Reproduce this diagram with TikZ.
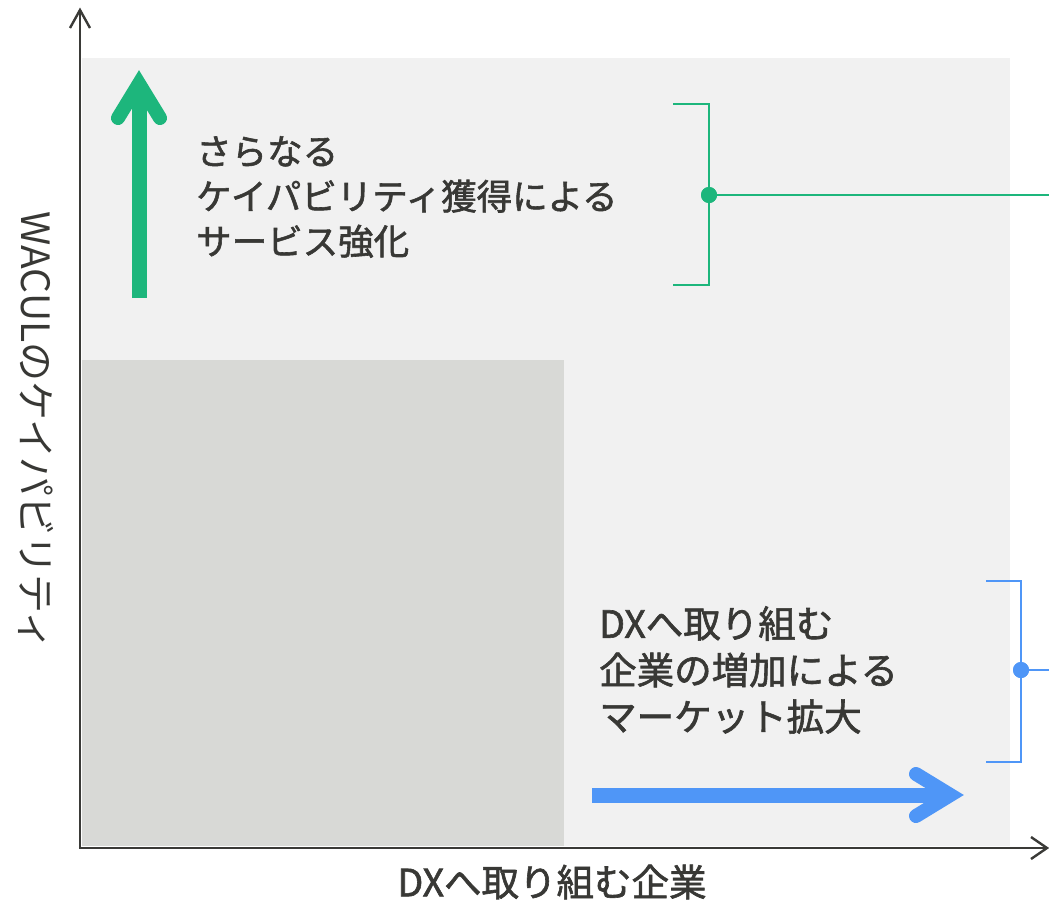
\documentclass[tikz,border=0pt]{standalone}
\usepackage{fontspec}
\setmainfont{Noto Sans CJK JP}[FakeBold=1.6]
\newfontfamily\regfont{Noto Sans CJK JP}
\definecolor{bglight}{HTML}{F1F1F1}
\definecolor{bgdark}{HTML}{D8D9D6}
\definecolor{axisc}{HTML}{3A3A37}
\definecolor{txtc}{HTML}{383835}
\definecolor{gc}{HTML}{1DB67C}
\definecolor{bc}{HTML}{4F96F7}
\tikzset{
  axisline/.style={draw=axisc, line width=2.4pt},
  axistip/.style={draw=axisc, line width=2.4pt, line join=miter},
  lbl/.style={font=\fontsize{35.5}{45}\selectfont, text=txtc, align=left, inner sep=0pt},
  lblb/.style={font=\fontsize{37.5}{46.5}\selectfont, text=txtc, align=left, inner sep=0pt},
  lblc/.style={font=\fontsize{37.5}{45}\selectfont, text=txtc, inner sep=0pt},
  lbly/.style={font=\regfont\fontsize{39}{45}\selectfont, text=txtc, inner sep=0pt},
  shaft/.style={line width=15pt, line cap=butt},
  headstroke/.style={line width=14pt, line cap=round, line join=miter},
  bracketline/.style={line width=1.3pt},
  linkline/.style={line width=2.6pt},
  dot/.style={circle, minimum size=16pt, inner sep=0pt},
}
\begin{document}
\begin{tikzpicture}[x=1pt,y=-1pt]
\useasboundingbox (0,0) rectangle (1049,902);
% backgrounds
\fill[bglight] (82,58) rectangle (1010,846);
\fill[bgdark] (82,360) rectangle (564,846);
% axes
\coordinate (origin) at (80,848);
\coordinate (ytop) at (80,10);
\coordinate (xend) at (1047,848);
\draw[axisline] (origin) -- (ytop);
\draw[axisline] ([xshift=-1.2pt]origin) -- (xend);
\draw[axistip] (70,28) -- (ytop) -- (90,28);
\draw[axistip] (1031,837) -- (xend) -- (1031,859);
% green arrow
\coordinate (gStart) at (139,298);
\coordinate (gVert) at (139,83.6);
\draw[gc, shaft] (gStart) -- (139,92);
\draw[gc, headstroke] (118,118) -- (gVert) -- (160,118);
% blue arrow
\coordinate (bStart) at (592,795);
\coordinate (bVert) at (950.4,795);
\draw[bc, shaft] (bStart) -- (942,795);
\draw[bc, headstroke] (916,774) -- (bVert) -- (916,816);
% texts
\node[lbl, anchor=west] (t1) at (196,197) {さらなる\\ケイパビリティ獲得による\\サービス強化};
\node[lblb, anchor=west] (t2) at (599,670) {DXへ取り組む\\企業の増加による\\マーケット拡大};
\node[lblc] (xlabel) at (552,882) {DXへ取り組む企業};
\node[lbly, rotate=-90] (ylabel) at (36,431) {WACULのケイパビリティ};
% green bracket
\node[dot, fill=gc] (gdot) at (709,195) {};
\coordinate (gEnd) at (1049,195);
\draw[gc, bracketline] (673,104) -- (709,104) -- (709,285) -- (673,285);
\draw[gc, linkline] (gdot.center) -- (gEnd);
\node[dot, fill=gc] at (gdot) {};
% blue bracket
\node[dot, fill=bc] (bdot) at (1021,670) {};
\coordinate (bEnd) at (1049,670);
\draw[bc, bracketline] (986,581) -- (1021,581) -- (1021,762) -- (986,762);
\draw[bc, linkline] (bdot.center) -- (bEnd);
\node[dot, fill=bc] at (bdot) {};
\end{tikzpicture}
\end{document}
